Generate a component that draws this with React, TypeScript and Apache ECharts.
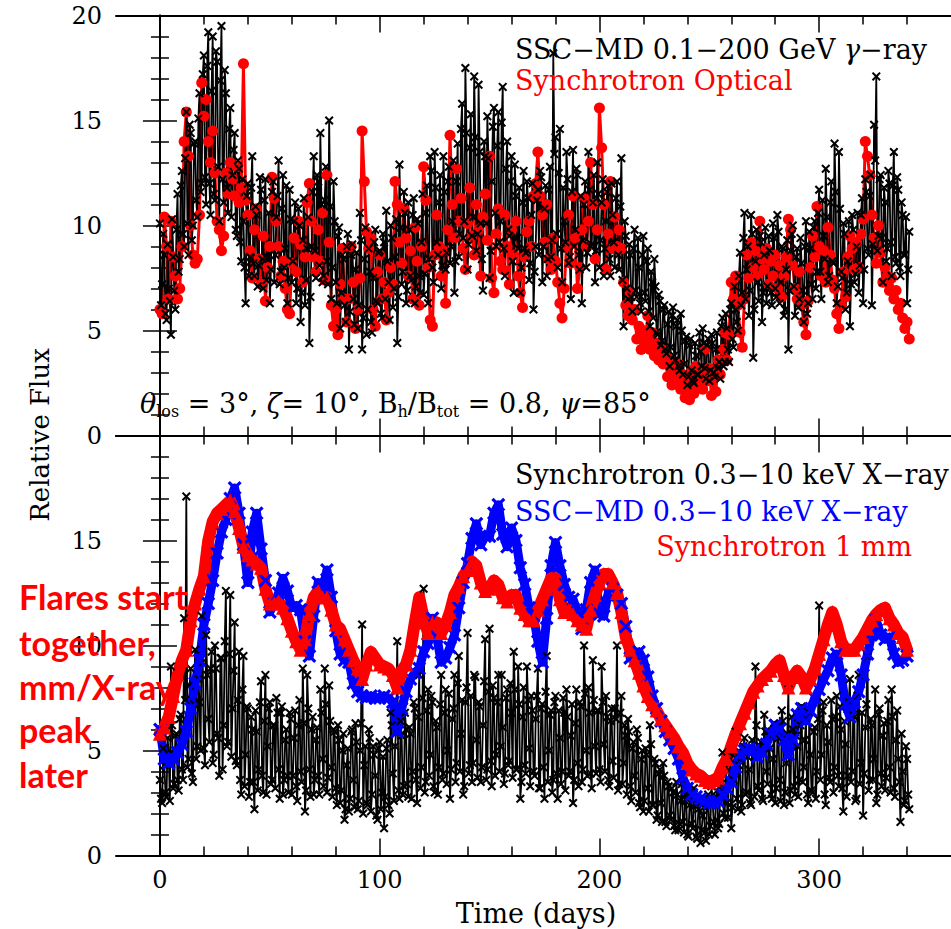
import React, { useEffect, useRef } from 'react';
import * as echarts from 'echarts';

// ---------- axes ----------
const X_MIN = -20;
const X_MAX = 360;
const X_MAJOR = [0, 100, 200, 300];
const Y_MIN = 0;
const Y_MAX = 20;

// ---------- top panel: SSC-MD 0.1-200 GeV gamma-ray, readings at whole days (day 0..341) ----------
const GAMMA_SSC = [
  10.1, 7.2, 8.6, 5.5, 7.0, 4.8, 8.5, 6.0, 11.5, 8.4,
  12.6, 9.0, 15.4, 8.6, 14.4, 10.0, 14.0, 10.4, 16.3, 12.0,
  18.1, 11.0, 19.2, 10.5, 19.0, 11.2, 17.8, 10.2, 19.5, 11.1,
  16.3, 10.6, 15.6, 12.4, 14.4, 9.5, 12.7, 8.3, 10.2, 6.3,
  12.0, 8.5, 13.3, 7.6, 10.5, 8.1, 11.7, 7.0, 12.2, 8.5,
  6.3, 11.6, 7.3, 10.4, 13.1, 7.8, 12.4, 8.9, 6.3, 11.7,
  7.3, 10.2, 6.3, 10.8, 5.4, 9.3, 6.2, 8.9, 4.4, 9.0,
  13.3, 7.5, 12.1, 14.4, 7.3, 11.2, 8.3, 15.0, 6.5, 12.1,
  7.3, 9.5, 5.1, 8.6, 6.2, 9.0, 4.1, 8.6, 6.5, 7.9,
  5.1, 10.6, 4.1, 8.4, 4.8, 8.9, 5.4, 7.5, 9.8, 6.3,
  8.8, 5.6, 9.2, 10.7, 7.3, 10.0, 6.1, 8.5, 4.4, 12.9,
  7.2, 11.6, 6.3, 11.1, 7.6, 10.5, 6.3, 10.3, 7.6, 9.2,
  6.7, 10.6, 6.3, 13.3, 8.0, 13.5, 9.2, 11.1, 7.0, 13.3,
  7.9, 12.1, 8.2, 10.2, 6.8, 12.1, 8.5, 14.6, 9.4, 17.5,
  7.9, 13.7, 9.5, 17.1, 8.8, 16.7, 10.1, 6.9, 13.3, 15.2,
  7.5, 12.1, 15.6, 9.0, 15.4, 10.2, 16.6, 7.6, 14.0, 9.5,
  13.3, 6.8, 11.4, 8.9, 6.8, 11.1, 8.9, 12.1, 7.4, 10.5,
  6.0, 9.0, 11.7, 12.6, 7.3, 10.8, 7.6, 11.7, 8.5, 18.2,
  14.2, 8.0, 14.6, 7.3, 10.2, 13.5, 8.2, 6.5, 13.6, 9.8,
  12.4, 7.9, 6.3, 11.0, 8.0, 13.5, 9.0, 11.1, 7.3, 13.0,
  8.0, 11.1, 7.6, 10.2, 11.9, 7.6, 10.5, 8.0, 12.1, 7.9,
  13.2, 5.2, 9.5, 6.5, 8.6, 5.9, 9.8, 6.6, 8.0, 5.9,
  9.5, 6.4, 8.9, 5.2, 7.3, 8.4, 4.9, 6.7, 4.3, 6.0,
  4.1, 5.3, 3.3, 5.7, 3.8, 5.2, 3.3, 5.8, 2.9, 4.5,
  2.4, 4.3, 3.1, 2.5, 3.8, 2.9, 4.0, 5.1, 3.2, 4.3,
  2.6, 4.8, 3.0, 4.1, 3.2, 2.7, 5.6, 3.5, 5.1, 3.5,
  6.3, 4.2, 6.0, 5.0, 8.7, 6.8, 10.6, 7.9, 5.7, 10.5,
  3.7, 8.3, 7.3, 9.5, 5.4, 8.6, 6.3, 9.5, 6.8, 10.1,
  7.0, 10.5, 6.3, 9.0, 5.7, 7.9, 4.1, 8.8, 10.0, 5.7,
  8.9, 6.5, 8.2, 5.4, 10.2, 6.3, 8.9, 6.5, 10.2, 7.8,
  11.7, 6.5, 9.5, 12.7, 7.3, 11.1, 8.3, 13.9, 6.3, 13.5,
  7.8, 10.1, 6.0, 8.3, 5.2, 10.5, 7.3, 9.0, 6.8, 10.5,
  6.3, 12.2, 8.9, 11.4, 6.2, 14.8, 17.1, 9.5, 12.4, 7.3,
  11.1, 8.9, 12.0, 7.6, 13.5, 8.2, 11.7, 7.6, 10.5, 8.6,
  6.3, 9.7,
];

// ---------- same series, readings at half days (day 0.5..340.5) ----------
const GAMMA_SSC_HALF = [
  6.2, 9.6, 5.8, 9.1, 6.4, 10.3, 6.9, 9.8, 7.8, 11.9,
  9.6, 13.2, 10.1, 14.8, 9.3, 13.9, 11.2, 15.1, 11.6, 17.2,
  12.3, 17.6, 12.0, 16.4, 11.5, 18.3, 12.8, 16.9, 12.2, 17.4,
  11.8, 14.6, 10.4, 13.6, 9.8, 13.1, 9.2, 12.2, 8.0, 11.4,
  7.6, 11.8, 8.2, 10.9, 7.1, 12.3, 8.4, 11.2, 7.4, 10.6,
  7.9, 12.1, 8.6, 11.4, 7.2, 10.8, 8.0, 11.9, 7.5, 10.3,
  8.3, 11.1, 7.0, 10.0, 6.8, 11.3, 7.4, 10.4, 6.6, 11.6,
  8.8, 12.4, 8.1, 11.0, 7.6, 12.8, 7.2, 10.9, 8.0, 10.2,
  6.3, 9.9, 6.8, 8.4, 5.4, 9.6, 5.9, 9.1, 5.3, 8.7,
  6.2, 9.3, 5.6, 9.9, 6.0, 7.8, 4.9, 9.2, 6.4, 8.7,
  5.8, 9.6, 6.5, 8.3, 5.5, 9.4, 7.0, 10.3, 6.6, 9.9,
  7.8, 10.6, 6.9, 9.8, 7.4, 11.3, 7.1, 10.1, 6.8, 11.5,
  7.7, 11.9, 8.4, 12.6, 7.3, 11.8, 8.6, 12.4, 8.1, 11.6,
  8.7, 12.8, 9.0, 13.1, 8.3, 13.9, 9.6, 15.8, 10.2, 14.4,
  9.1, 15.3, 10.4, 14.2, 9.6, 13.5, 8.4, 14.0, 10.1, 13.2,
  8.8, 14.7, 10.6, 13.8, 9.2, 14.9, 8.9, 12.7, 9.8, 12.1,
  8.3, 12.9, 9.4, 11.8, 8.0, 12.6, 8.7, 11.3, 8.2, 12.0,
  7.8, 11.2, 8.6, 12.3, 9.0, 11.9, 8.4, 12.8, 9.3, 13.4,
  9.6, 12.5, 8.9, 11.8, 9.2, 12.2, 8.5, 11.6, 9.0, 12.7,
  8.6, 11.4, 9.3, 12.1, 8.7, 11.7, 9.1, 12.4, 8.8, 11.5,
  9.3, 12.2, 8.9, 11.6, 8.4, 12.0, 9.2, 11.3, 8.6, 10.9,
  7.4, 10.2, 7.0, 9.1, 6.6, 8.9, 6.9, 9.4, 6.3, 8.6,
  6.8, 8.3, 5.9, 7.8, 5.6, 7.1, 4.8, 6.4, 4.5, 6.2,
  3.9, 5.9, 4.2, 6.1, 3.6, 5.5, 3.1, 5.0, 3.4, 4.7,
  2.8, 4.6, 2.6, 4.4, 2.9, 4.9, 3.3, 4.4, 2.7, 4.6,
  3.1, 4.4, 2.8, 4.9, 3.5, 5.2, 3.3, 5.8, 4.1, 6.0,
  4.6, 7.1, 5.4, 7.6, 6.2, 9.4, 6.5, 9.0, 6.9, 9.6,
  6.0, 9.8, 6.4, 9.2, 6.8, 9.9, 7.1, 8.8, 6.2, 9.4,
  6.6, 9.7, 7.3, 8.9, 6.0, 9.3, 6.9, 9.6, 7.1, 8.5,
  6.1, 9.4, 6.9, 9.0, 5.8, 9.7, 7.2, 9.9, 7.0, 10.6,
  7.8, 11.2, 8.4, 10.4, 7.6, 12.1, 8.2, 11.6, 7.1, 10.8,
  7.5, 9.6, 6.8, 10.2, 7.2, 9.8, 7.7, 10.6, 8.1, 11.3,
  7.9, 11.6, 8.6, 12.4, 9.1, 13.1, 8.8, 12.2, 9.4, 11.8,
  8.3, 12.6, 9.2, 11.9, 8.5, 12.3, 8.0, 11.1, 8.6, 10.4,
  7.9,
];

// ---------- top panel: Synchrotron optical (one value per day) ----------
const OPTICAL_SYNC = [
  6.0, 5.8, 10.4, 9.0, 6.5, 10.2, 8.5, 7.6, 6.5, 7.0,
  9.0, 14.0, 15.4, 13.3, 10.0, 8.6, 8.2, 8.4, 10.5, 16.8,
  15.2, 16.0, 14.0, 13.0, 14.5, 12.5, 10.2, 9.8, 8.8, 9.5,
  12.5, 11.5, 13.0, 12.2, 11.4, 12.8, 11.1, 11.8, 17.7, 11.2,
  10.5, 8.8, 7.5, 9.8, 10.8, 8.4, 7.2, 9.5, 6.4, 8.0,
  9.0, 12.3, 11.3, 10.2, 9.0, 7.6, 8.3, 7.0, 6.0, 5.8,
  8.2, 9.4, 7.8, 10.2, 9.1, 7.3, 8.5, 11.1, 12.0, 10.2,
  8.5, 7.8, 9.8, 8.3, 10.6, 7.4, 12.4, 9.2, 6.2, 5.2,
  6.0, 4.8, 7.2, 8.9, 6.5, 5.4, 6.5, 9.0, 7.3, 5.1,
  6.0, 7.5, 14.5, 12.1, 9.7, 8.9, 9.4, 6.0, 5.2, 7.8,
  8.6, 6.5, 7.3, 5.5, 6.8, 8.0, 7.2, 12.1, 11.0, 9.2,
  8.2, 10.8, 9.4, 7.6, 8.8, 6.5, 9.9, 8.3, 6.2, 9.0,
  12.8, 11.2, 8.0, 5.5, 5.2, 8.6, 10.5, 9.0, 7.6, 8.8,
  6.3, 9.8, 14.3, 11.0, 9.4, 12.7, 10.2, 11.3, 8.9, 7.9,
  10.1, 11.8, 9.5, 8.6, 11.0, 9.8, 7.6, 10.4, 11.5, 9.3,
  13.3, 7.5, 6.8, 9.6, 10.8, 8.3, 7.9, 10.5, 9.0, 7.2,
  9.8, 8.6, 10.2, 7.6, 6.8, 6.1, 8.5, 9.7, 10.2, 9.0,
  11.4, 12.0, 13.5, 11.4, 10.5, 9.2, 11.0, 8.4, 7.9, 9.4,
  8.3, 7.3, 6.3, 5.6, 7.0, 9.0, 10.5, 8.2, 11.4, 9.4,
  7.0, 8.0, 9.8, 11.3, 9.0, 10.2, 13.0, 11.0, 8.4, 9.8,
  15.6, 13.7, 11.0, 7.9, 9.6, 12.1, 8.9, 10.4, 9.0, 9.8,
  8.9, 7.3, 6.2, 5.7, 6.8, 5.5, 6.0, 4.6, 5.2, 4.1,
  5.0, 4.5, 5.7, 4.1, 4.9, 3.8, 4.4, 3.6, 4.2, 3.4,
  3.9, 2.8, 3.6, 2.4, 3.2, 2.6, 3.4, 2.2, 2.9, 1.8,
  2.6, 1.7, 3.1, 2.0, 3.3, 2.4, 3.0, 2.2, 4.1, 2.6,
  3.2, 1.9, 2.8, 2.1, 3.6, 2.9, 4.1, 4.9, 3.6, 4.8,
  7.3, 6.5, 7.6, 6.2, 4.9, 4.2, 6.5, 8.6, 7.5, 9.2,
  8.0, 8.8, 7.6, 10.2, 8.4, 7.9, 8.9, 7.2, 8.3, 7.6,
  8.6, 7.0, 8.1, 6.6, 7.6, 8.5, 10.3, 9.8, 8.1, 7.0,
  6.5, 7.8, 6.2, 5.4, 4.8, 6.4, 8.0, 9.5, 8.5, 10.9,
  9.0, 7.6, 8.8, 7.3, 9.9, 8.6, 7.4, 7.0, 5.8, 5.1,
  6.2, 7.8, 6.6, 8.5, 9.5, 8.9, 7.9, 9.2, 8.0, 9.6,
  10.3, 14.0, 13.3, 12.4, 10.5, 9.4, 8.2, 10.0, 8.7, 7.3,
  8.0, 7.6, 6.9, 7.5, 6.5, 6.9, 6.0, 6.3, 5.6, 5.1,
  5.4, 4.6,
];

// ---------- bottom panel: Synchrotron 0.3-10 keV X-ray, readings at whole days ----------
const XRAY_SYNC = [
  3.6, 2.5, 4.3, 2.8, 4.8, 9.0, 3.2, 5.7, 3.6, 6.5,
  4.1, 11.3, 17.1, 4.6, 8.9, 3.5, 9.8, 5.2, 7.3, 11.4,
  5.1, 10.5, 6.5, 8.9, 4.4, 10.0, 5.8, 3.8, 9.4, 6.2,
  12.6, 5.4, 12.4, 7.0, 11.1, 4.3, 9.7, 2.9, 9.5, 4.8,
  7.0, 3.5, 6.0, 2.2, 5.9, 4.1, 8.3, 3.0, 8.6, 5.2,
  7.3, 3.6, 6.2, 7.5, 4.1, 6.8, 2.9, 5.5, 3.8, 6.8,
  2.9, 5.6, 3.3, 6.2, 4.0, 8.9, 2.1, 8.6, 4.1, 6.0,
  2.9, 5.5, 3.8, 7.9, 4.6, 8.9, 3.0, 8.1, 4.2, 6.0,
  3.2, 6.2, 2.5, 5.0, 1.7, 4.3, 2.1, 5.9, 3.6, 6.3,
  2.2, 5.0, 11.0, 4.3, 2.5, 6.0, 2.1, 5.2, 3.8, 1.7,
  5.4, 3.0, 1.3, 5.1, 2.4, 6.8, 3.9, 5.2, 10.2, 2.7,
  5.7, 3.3, 6.0, 2.8, 5.8, 4.0, 7.0, 2.5, 8.6, 4.2,
  12.7, 3.5, 7.9, 4.8, 7.3, 3.0, 6.1, 4.2, 8.6, 3.9,
  7.9, 5.0, 2.7, 6.5, 8.6, 4.4, 9.5, 5.8, 2.9, 7.3,
  10.6, 4.3, 3.5, 8.6, 5.5, 7.3, 3.5, 6.2, 10.3, 4.1,
  10.8, 3.3, 7.5, 4.8, 8.6, 5.2, 6.1, 3.9, 7.9, 4.5,
  6.8, 9.7, 4.1, 9.0, 2.7, 6.6, 4.3, 9.0, 5.1, 7.6,
  4.0, 6.5, 8.9, 3.2, 7.2, 2.7, 9.5, 5.0, 6.9, 3.6,
  7.6, 2.7, 5.6, 4.0, 6.8, 7.9, 3.8, 5.7, 2.5, 6.3,
  4.4, 7.3, 3.5, 10.0, 5.0, 8.0, 3.9, 9.3, 5.2, 6.9,
  4.1, 9.0, 5.3, 7.6, 3.6, 6.4, 4.5, 7.0, 10.0, 3.4,
  7.6, 4.4, 5.7, 6.5, 3.3, 5.1, 3.8, 6.0, 2.5, 4.6,
  2.1, 5.1, 3.2, 6.2, 2.4, 4.6, 1.7, 3.9, 2.5, 4.4,
  1.6, 3.5, 1.9, 3.2, 1.4, 3.5, 1.2, 2.6, 1.6, 2.9,
  1.0, 2.4, 1.5, 3.2, 0.9, 2.2, 0.6, 1.9, 1.1, 2.5,
  1.0, 3.3, 1.6, 2.8, 1.3, 3.0, 4.9, 1.8, 2.5, 4.9,
  1.3, 3.6, 5.9, 2.2, 4.5, 2.4, 5.6, 3.0, 4.1, 2.4,
  5.0, 9.0, 3.3, 5.2, 2.7, 6.7, 4.0, 5.7, 2.9, 4.6,
  2.5, 5.8, 3.6, 6.9, 2.4, 4.4, 7.9, 3.1, 6.0, 2.9,
  5.2, 3.6, 7.1, 4.2, 6.5, 2.5, 4.8, 3.0, 6.1, 4.0,
  11.9, 4.8, 7.3, 2.4, 5.4, 3.5, 6.5, 4.2, 7.6, 3.3,
  6.0, 2.1, 5.3, 3.8, 8.4, 4.0, 6.6, 2.7, 8.6, 4.4,
  1.9, 6.1, 9.5, 3.6, 6.2, 4.6, 2.5, 6.7, 3.9, 5.7,
  3.1, 6.4, 4.2, 7.9, 3.2, 5.5, 4.6, 1.6, 4.0, 2.6,
  4.6, 2.2,
];

// ---------- same series, readings at half days (day 0.5..340.5) ----------
const XRAY_SYNC_HALF = [
  2.7, 5.1, 3.0, 5.6, 2.6, 6.2, 3.4, 5.8, 3.1, 6.7,
  3.6, 7.4, 4.2, 8.1, 3.9, 7.2, 4.6, 8.4, 5.0, 9.2,
  4.3, 8.6, 5.4, 9.7, 4.8, 8.9, 5.6, 9.4, 4.1, 10.2,
  5.2, 9.6, 4.7, 8.8, 4.5, 7.4, 3.6, 7.9, 3.3, 7.1,
  2.8, 6.6, 3.5, 6.9, 3.1, 7.3, 3.8, 6.4, 2.9, 7.0,
  3.4, 6.2, 3.2, 6.8, 2.7, 7.1, 3.6, 6.0, 3.0, 6.5,
  3.8, 6.9, 2.6, 7.4, 3.5, 6.3, 3.1, 7.0, 2.8, 6.6,
  3.6, 6.1, 2.9, 6.8, 3.3, 7.2, 3.7, 6.4, 2.8, 5.9,
  2.4, 5.5, 3.1, 5.8, 2.2, 5.1, 2.7, 6.0, 2.3, 5.4,
  2.6, 6.3, 2.0, 5.2, 2.4, 5.6, 2.9, 4.8, 1.9, 5.1,
  2.2, 4.7, 2.8, 5.5, 2.0, 6.2, 2.6, 5.9, 3.1, 6.4,
  2.9, 6.8, 3.4, 6.1, 2.7, 7.3, 3.6, 6.6, 3.2, 7.5,
  3.0, 6.9, 3.8, 7.6, 3.3, 6.4, 2.9, 7.2, 3.6, 6.8,
  3.4, 7.7, 4.1, 7.0, 3.5, 8.2, 4.0, 7.4, 3.3, 8.0,
  3.9, 7.6, 4.4, 8.5, 3.7, 7.1, 4.2, 8.3, 3.6, 7.8,
  4.5, 8.1, 3.8, 7.3, 4.0, 8.6, 3.4, 7.5, 4.3, 8.2,
  3.7, 7.9, 4.1, 7.2, 3.5, 8.0, 3.9, 7.4, 3.3, 6.9,
  3.8, 7.6, 3.2, 7.0, 4.2, 7.8, 3.5, 6.7, 3.0, 7.3,
  3.9, 6.9, 3.4, 7.5, 3.1, 6.6, 4.0, 7.2, 3.6, 7.9,
  3.3, 7.1, 4.1, 7.7, 3.8, 6.8, 3.2, 7.4, 3.9, 6.9,
  3.5, 7.3, 4.0, 6.6, 3.3, 7.0, 3.7, 6.5, 3.1, 6.8,
  3.4, 6.2, 2.9, 5.9, 2.6, 5.4, 3.0, 5.6, 2.3, 5.0,
  2.6, 4.8, 2.1, 5.3, 2.4, 4.4, 1.9, 4.1, 1.6, 3.8,
  1.4, 3.3, 1.7, 3.0, 1.2, 2.9, 1.5, 3.4, 1.1, 2.7,
  0.9, 2.8, 1.3, 2.5, 0.8, 2.6, 1.2, 2.3, 0.7, 2.9,
  1.4, 2.6, 1.0, 3.1, 1.5, 3.4, 2.0, 4.2, 1.8, 4.6,
  2.3, 4.9, 2.7, 4.3, 2.1, 5.2, 2.9, 4.7, 2.5, 5.5,
  2.8, 6.2, 3.1, 5.4, 2.6, 5.9, 3.4, 5.1, 2.7, 6.3,
  3.2, 5.6, 2.6, 6.4, 3.0, 5.8, 2.5, 6.6, 3.3, 5.7,
  2.8, 6.2, 3.5, 5.5, 2.9, 6.8, 3.1, 5.9, 2.7, 6.5,
  3.6, 6.9, 2.9, 6.2, 3.7, 7.4, 3.0, 6.6, 3.8, 7.1,
  3.2, 6.4, 2.8, 7.3, 3.5, 6.7, 2.6, 7.6, 3.4, 6.8,
  3.9, 7.2, 3.1, 6.5, 3.6, 7.9, 2.9, 7.0, 3.3, 6.3,
  3.7, 7.4, 3.0, 6.6, 2.8, 6.9, 3.5, 5.8, 2.4, 5.2,
  2.9,
];

// ---------- bottom panel: SSC-MD 0.3-10 keV X-ray (one value every 2 days, day 0..340) ----------
const XRAY_SSC = [
  6.0, 4.6, 4.4, 4.6, 4.9, 5.3, 5.9, 7.0, 8.2, 9.3,
  11.0, 12.0, 13.1, 14.4, 15.4, 16.0, 17.0, 17.5, 16.3, 14.8,
  13.0, 15.4, 16.3, 14.6, 13.1, 11.6, 12.0, 12.5, 13.2, 12.6,
  11.8, 11.9, 11.7, 10.2, 9.5, 11.4, 13.0, 12.6, 13.6, 12.3,
  10.7, 9.6, 9.3, 9.2, 8.2, 7.8, 7.6, 7.5, 7.6, 7.5,
  7.5, 7.6, 7.5, 7.3, 5.9, 7.0, 7.8, 8.4, 8.7, 8.9,
  9.7, 10.1, 11.3, 10.4, 9.2, 9.4, 9.9, 10.5, 11.8, 13.0,
  13.9, 15.1, 15.8, 14.8, 15.2, 15.2, 16.3, 16.7, 15.3, 14.7,
  15.6, 15.0, 13.7, 12.9, 11.8, 11.4, 10.2, 9.2, 11.3, 13.8,
  14.9, 13.8, 12.9, 12.3, 12.2, 11.6, 10.8, 11.7, 13.0, 13.6,
  11.5, 11.4, 12.5, 12.7, 12.4, 12.0, 10.9, 9.4, 9.6, 9.7,
  9.3, 8.5, 7.6, 7.0, 6.4, 5.9, 5.5, 5.1, 4.6, 3.7,
  3.2, 2.9, 2.8, 2.7, 2.6, 2.5, 2.5, 2.6, 2.9, 3.2,
  3.5, 4.2, 4.8, 5.0, 5.1, 5.0, 4.7, 4.9, 5.3, 5.8,
  6.2, 6.0, 5.5, 4.8, 5.5, 6.7, 7.0, 6.4, 6.9, 7.5,
  7.9, 8.4, 8.8, 9.4, 9.6, 8.6, 7.2, 6.6, 7.3, 7.8,
  8.6, 9.6, 10.6, 11.2, 10.5, 10.3, 10.4, 9.6, 9.2, 9.3,
  9.5,
];

// ---------- bottom panel: Synchrotron 1 mm (one value every 2 days, day 0..340) ----------
const MM_SYNC = [
  5.8, 6.1, 6.6, 7.6, 8.6, 9.3, 9.8, 11.2, 12.0, 12.7,
  13.3, 15.0, 15.9, 16.3, 16.5, 16.7, 16.9, 16.4, 15.6, 14.7,
  14.3, 14.1, 13.9, 13.7, 12.7, 12.0, 12.0, 12.1, 11.8, 11.3,
  10.7, 10.2, 9.8, 10.3, 11.5, 12.3, 12.6, 12.3, 12.3, 11.7,
  11.0, 10.8, 10.3, 9.8, 9.3, 8.9, 8.4, 9.1, 9.7, 9.4,
  9.1, 9.0, 8.9, 8.6, 8.0, 8.8, 9.1, 9.8, 11.1, 12.3,
  11.3, 10.6, 11.1, 11.1, 10.6, 11.0, 11.6, 12.4, 12.8, 13.3,
  13.6, 14.0, 13.8, 13.0, 12.6, 12.7, 13.1, 12.9, 12.3, 12.1,
  12.4, 12.4, 11.8, 11.5, 11.2, 11.2, 11.7, 12.2, 12.7, 13.2,
  13.2, 12.2, 11.6, 11.7, 11.5, 11.2, 11.0, 10.8, 11.7, 12.4,
  13.0, 13.4, 13.4, 13.0, 12.5, 11.6, 10.4, 9.8, 9.3, 8.7,
  8.1, 7.6, 7.2, 6.9, 6.5, 6.2, 5.9, 5.6, 5.2, 4.9,
  4.4, 4.1, 3.9, 3.8, 3.6, 3.5, 3.6, 3.7, 4.2, 4.6,
  5.2, 5.8, 6.3, 6.8, 7.3, 7.8, 8.1, 8.4, 8.6, 8.8,
  9.1, 9.3, 8.6, 8.0, 8.5, 8.8, 8.5, 8.0, 8.4, 8.9,
  9.6, 10.3, 11.0, 11.6, 11.0, 10.2, 9.8, 9.8, 9.8, 10.1,
  10.4, 10.8, 11.2, 11.5, 11.7, 11.8, 11.3, 11.0, 10.6, 10.4,
  9.8,
];

// ---------- styles ----------
const SERIF = "'DejaVu Serif', serif";
const RED = '#ff0000';
const BLUE = '#0000ff';
const BLACK = '#000000';
const CROSS =
  'path://M0,1.6L1.6,0L5,3.4L8.4,0L10,1.6L6.6,5L10,8.4L8.4,10L5,6.6L1.6,10L0,8.4L3.4,5Z';

const daily = (vals: number[]) => vals.map((v, i) => [i, v]);
const everyTwoDays = (vals: number[]) => vals.map((v, i) => [i * 2, v]);
// merge whole-day and half-day readings in time order
const withHalfDays = (whole: number[], half: number[]) => {
  const out: number[][] = [];
  whole.forEach((v, i) => {
    out.push([i, v]);
    if (i < half.length) out.push([i + 0.5, half[i]]);
  });
  return out;
};

const minorXTicks = [20, 40, 60, 80, 120, 140, 160, 180, 220, 240, 260, 280, 320, 340];

const GRID_LEFT = 116;
const GRID_W = 840;
const GRID_H = 420;
const TOP1 = 15.5;
const TOP2 = 435.5;

const axisLine = { show: true, lineStyle: { color: BLACK, width: 2 } };
const tickLine = { color: BLACK, width: 1.5 };

function xAxesFor(grid: number, withLabels: boolean) {
  const base = {
    type: 'value',
    gridIndex: grid,
    min: X_MIN,
    max: X_MAX,
    splitLine: { show: false },
  };
  const out: any[] = [];
  (['bottom', 'top'] as const).forEach((pos) => {
    out.push({
      ...base,
      position: pos,
      axisLine,
      axisTick: { show: true, inside: true, length: 17, lineStyle: tickLine, customValues: X_MAJOR },
      axisLabel:
        withLabels && pos === 'bottom'
          ? {
              show: true,
              customValues: X_MAJOR,
              fontFamily: SERIF,
              fontSize: 24,
              color: BLACK,
              margin: 12,
            }
          : { show: false },
    });
    out.push({
      ...base,
      position: pos,
      axisLine: { show: false },
      axisTick: { show: true, inside: true, length: 9, lineStyle: tickLine, customValues: minorXTicks },
      axisLabel: { show: false },
    });
  });
  return out;
}

function yAxesFor(grid: number, hideTopLabel: boolean) {
  const base = {
    type: 'value',
    gridIndex: grid,
    min: Y_MIN,
    max: Y_MAX,
    interval: 5,
    splitLine: { show: false },
    axisLine,
    axisTick: { show: true, inside: true, length: 17, lineStyle: tickLine },
    minorTick: { show: true, splitNumber: 5, length: 9, lineStyle: tickLine },
  };
  return [
    {
      ...base,
      position: 'left',
      axisLabel: {
        show: true,
        fontFamily: SERIF,
        fontSize: 24,
        color: BLACK,
        margin: 14,
        formatter: (v: number) => (hideTopLabel && v === 20 ? '' : String(v)),
      },
    },
    { ...base, position: 'right', axisLabel: { show: false } },
  ];
}

function txt(x: number, y: number, text: string, opts: any = {}) {
  const align = opts.align || 'left';
  return {
    type: 'text',
    x,
    y,
    rotation: opts.rotation || 0,
    z: opts.z || 50,
    silent: true,
    style: {
      text,
      fill: opts.fill || BLACK,
      fontSize: opts.fontSize || 27,
      fontFamily: opts.fontFamily || SERIF,
      fontWeight: opts.fontWeight || 'normal',
      fontStyle: opts.fontStyle || 'normal',
      textAlign: align,
      align,
      textVerticalAlign: 'middle',
      verticalAlign: 'middle',
      rich: opts.rich,
    },
  };
}

function richStyles(color: string, size: number) {
  return {
    n: { fill: color, color, fontSize: size, fontFamily: SERIF, lineHeight: 32, verticalAlign: 'middle' },
    i: { fill: color, color, fontSize: size, fontFamily: SERIF, fontStyle: 'italic', lineHeight: 32, verticalAlign: 'middle' },
    s: { fill: color, color, fontSize: 16, fontFamily: SERIF, verticalAlign: 'bottom' },
  };
}

const annot = { fill: RED, fontFamily: 'Lato', fontWeight: 'bold', fontSize: 34, z: 100 };

export default function App() {
  const ref = useRef<HTMLDivElement>(null);

  useEffect(() => {
    if (!ref.current) return;
    const chart = echarts.init(ref.current, undefined, { renderer: 'svg' });

    const lineSeries = (name: string, data: number[][], xi: number, yi: number, color: string, symbol: string, size: number, width: number) => ({
      name,
      type: 'line',
      xAxisIndex: xi,
      yAxisIndex: yi,
      data,
      symbol,
      symbolSize: size,
      showSymbol: true,
      silent: true,
      clip: true,
      itemStyle: { color, borderWidth: 0 },
      lineStyle: { color, width, join: 'round', cap: 'round' },
      emphasis: { disabled: true },
    });

    chart.setOption({
      animation: false,
      backgroundColor: '#ffffff',
      grid: [
        { left: GRID_LEFT, top: TOP1, width: GRID_W, height: GRID_H, containLabel: false },
        { left: GRID_LEFT, top: TOP2, width: GRID_W, height: GRID_H, containLabel: false },
      ],
      xAxis: [...xAxesFor(0, false), ...xAxesFor(1, true)],
      yAxis: [...yAxesFor(0, false), ...yAxesFor(1, true)],
      series: [
        lineSeries('Synchrotron Optical', daily(OPTICAL_SYNC), 0, 0, RED, 'circle', 11, 3),
        lineSeries('SSC-MD 0.1-200 GeV γ-ray', withHalfDays(GAMMA_SSC, GAMMA_SSC_HALF), 0, 0, BLACK, CROSS, 9, 1.8),
        lineSeries('Synchrotron 0.3-10 keV X-ray', withHalfDays(XRAY_SYNC, XRAY_SYNC_HALF), 4, 2, BLACK, CROSS, 9, 1.8),
        lineSeries('SSC-MD 0.3-10 keV X-ray', everyTwoDays(XRAY_SSC), 4, 2, BLUE, CROSS, 14, 9),
        lineSeries('Synchrotron 1 mm', everyTwoDays(MM_SYNC), 4, 2, RED, 'triangle', 14, 12),
      ],
      graphic: [
        txt(515, 49, '{n|SSC−MD 0.1−200 GeV }{i|γ}{n|−ray}', { rich: richStyles(BLACK, 27) }),
        txt(515, 80, 'Synchrotron Optical', { fill: RED }),
        txt(
          140,
          403,
          '{i|θ}{s|los}{n| = 3°, }{i|ζ}{n|= 10°, B}{s|h}{n|/B}{s|tot}{n| = 0.8, }{i|ψ}{n|=85°}',
          { rich: richStyles(BLACK, 27) }
        ),
        txt(515, 474, 'Synchrotron 0.3−10 keV X−ray'),
        txt(515, 511, 'SSC−MD 0.3−10 keV X−ray', { fill: BLUE }),
        txt(912, 546, 'Synchrotron 1 mm', { fill: RED, align: 'right' }),
        txt(536, 913, 'Time (days)', { align: 'center' }),
        txt(40, 435, 'Relative Flux', { align: 'center', rotation: Math.PI / 2, fontSize: 26 }),
        txt(19, 596, 'Flares start', annot),
        txt(19, 642, 'together,', annot),
        txt(19, 686, 'mm/X-ray', annot),
        txt(19, 729, 'peak', annot),
        txt(19, 774, 'later', annot),
      ],
    });

    return () => chart.dispose();
  }, []);

  return (
    <div
      ref={ref}
      style={{ position: 'absolute', left: 0, top: 0, width: 951, height: 929, background: '#fff' }}
    />
  );
}
